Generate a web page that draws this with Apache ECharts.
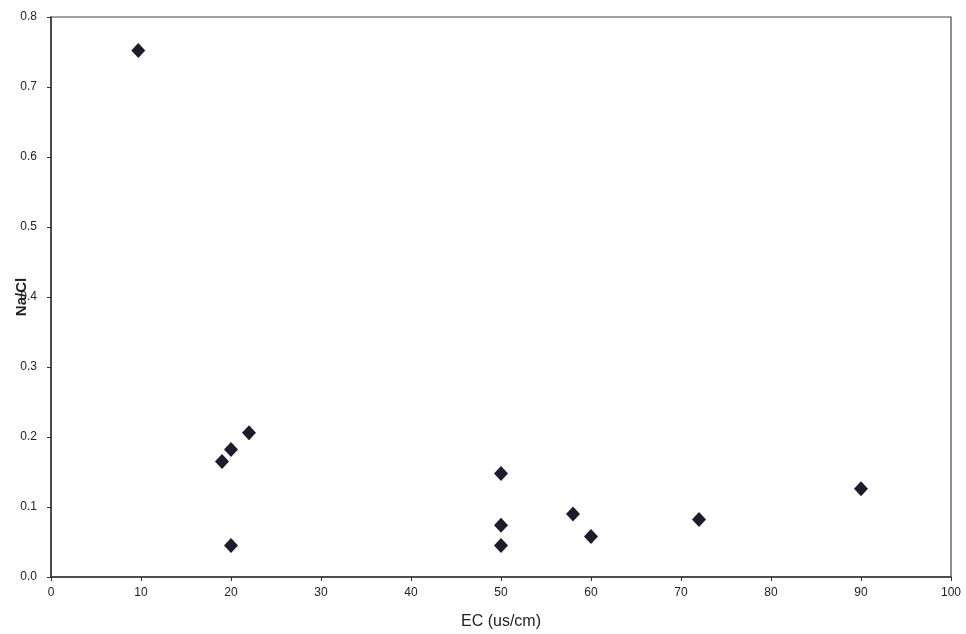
<!DOCTYPE html>
<html>
<head>
<meta charset="utf-8">
<script src="https://cdn.jsdelivr.net/npm/echarts@6/dist/echarts.min.js"></script>
<style>html,body{margin:0;padding:0;background:#fff;}#c{width:966px;height:634px;}</style>
</head>
<body>
<div id="c"></div>
<script>
const ecValues = [9.7, 19, 20, 22, 20, 50, 50, 50, 58, 60, 72, 90];
const naClValues = [0.752, 0.165, 0.182, 0.206, 0.045, 0.148, 0.074, 0.045, 0.090, 0.058, 0.082, 0.126];
const xTicks = {min: 0, max: 100, interval: 10};
const yTicks = {min: 0, max: 0.8, interval: 0.1};

const points = ecValues.map((x, i) => [x, naClValues[i]]);
const chart = echarts.init(document.getElementById('c'), null, {renderer: 'canvas'});
const txt = '#222';
chart.setOption({
  backgroundColor: '#fff',
  animation: false,
  grid: {left: 51, right: 15, top: 17, bottom: 57, containLabel: false, outerBoundsMode: 'none',
         show: true, borderColor: '#444', borderWidth: 1.2},
  xAxis: {
    type: 'value', min: xTicks.min, max: xTicks.max, interval: xTicks.interval,
    name: 'EC (us/cm)', nameLocation: 'middle', nameGap: 37,
    nameTextStyle: {fontFamily: 'Liberation Sans, Arial', fontSize: 16, color: txt},
    axisLine: {show: true, onZero: false, lineStyle: {color: '#333', width: 1.5}},
    axisTick: {show: true, length: 4, lineStyle: {color: '#333'}},
    axisLabel: {fontFamily: 'Liberation Sans, Arial', fontSize: 12, color: txt, margin: 10},
    splitLine: {show: false}
  },
  yAxis: {
    type: 'value', min: yTicks.min, max: yTicks.max, interval: yTicks.interval,
    name: 'Na/Cl', nameLocation: 'middle', nameGap: 22, nameMoveOverlap: false,
    nameTextStyle: {fontFamily: 'Liberation Sans, Arial', fontSize: 15, fontWeight: 'bold', color: txt},
    axisLine: {show: true, onZero: false, lineStyle: {color: '#333', width: 1.5}},
    axisTick: {show: true, length: 4, lineStyle: {color: '#333'}},
    axisLabel: {fontFamily: 'Liberation Sans, Arial', fontSize: 12, color: txt, margin: 14,
      formatter: v => v.toFixed(1)},
    splitLine: {show: false}
  },
  series: [{
    type: 'scatter',
    data: points,
    symbol: 'diamond',
    symbolSize: [14, 15],
    itemStyle: {color: '#1c1c2c', opacity: 1}
  }]
});
</script>
</body>
</html>
